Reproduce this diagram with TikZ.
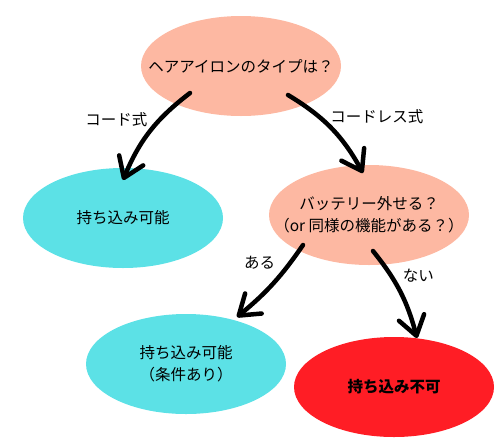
\documentclass[tikz,border=0pt]{standalone}
\usepackage{fontspec}
\setmainfont{Noto Sans CJK JP}
\usepackage{tikz}
\usetikzlibrary{positioning,shapes.geometric,arrows.meta}
\definecolor{QSalmon}{HTML}{FDB8A2}
\definecolor{OKCyan}{HTML}{5CE1E6}
\definecolor{NGRed}{HTML}{FF1D25}

\begin{document}
\begin{tikzpicture}[x=1pt, y=-1pt, on grid,
                    >={Straight Barb[length=19pt,width=26pt,round]},
                    every node/.style={font=\fontsize{15.5}{22}\selectfont, align=center},
                    blob/.style={ellipse, minimum width=200pt, minimum height=100pt,
                                 inner xsep=-30pt, inner ysep=0pt},
                    every path/.style={line width=4.5pt, line cap=round, line join=round}]
\useasboundingbox (0,0) rectangle (500,437);
\node[blob, fill=QSalmon] (type) at (241,66) {ヘアアイロンのタイプは？};
\node[blob, fill=OKCyan, below left=152pt and 118pt of type] (cord) {持ち込み可能};
\node[blob, fill=QSalmon, below right=149pt and 128pt of type] (batt) {バッテリー外せる？\\（or 同様の機能がある？）};
\node[blob, fill=OKCyan, below left=149pt and 183pt of batt] (cond) {持ち込み可能\\（条件あり）};
\node[blob, fill=NGRed, below right=172pt and 25pt of batt] (ng) {\bfseries 持ち込み不可};
\draw[->] ([shift={(-51,27)}]type.center) to[bend right=15] node[pos=0.35, left=7pt] {コード式} ([shift={(0,-38)}]cord.center);
\draw[->] ([shift={(47,29)}]type.center) to[bend left=15] node[pos=0.33, right=6pt] {コードレス式} ([shift={(-6,-42)}]batt.center);
\draw[->] ([shift={(-66,30)}]batt.center) to[bend left=8] node[pos=0.2, left=10pt] {ある} ([shift={(51,-47)}]cond.center);
\draw[->] ([shift={(4,36)}]batt.center) to[bend left=12] node[pos=0.3, right=6pt] {ない} ([shift={(23,-49)}]ng.center);
\end{tikzpicture}
\end{document}
